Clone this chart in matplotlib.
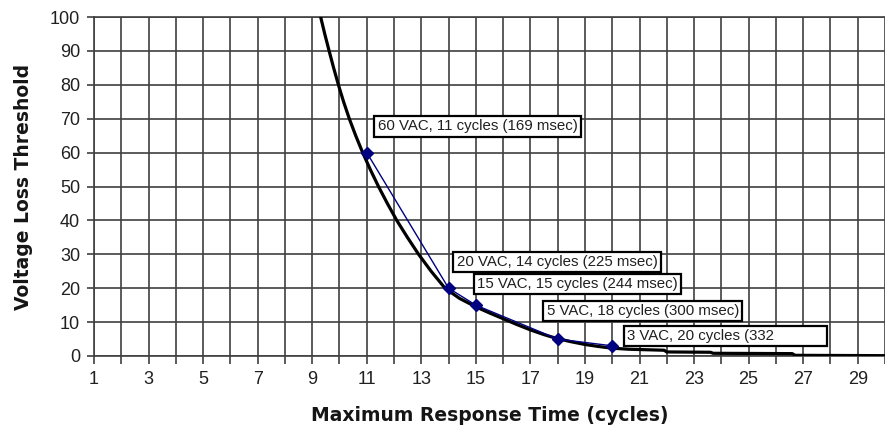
import matplotlib
matplotlib.use("Agg")
import matplotlib.pyplot as plt

# threshold curve (black)
curve_x = [9.31, 9.46, 9.62, 9.785, 9.96, 10.15, 10.36, 10.595, 10.85, 11.13,
           11.43, 11.755, 12.1, 12.49, 12.9, 13.36, 13.87, 14.4, 15.0, 15.5,
           16.0, 16.5, 17.0, 17.5, 18.0, 18.5, 19.0, 19.5, 20.0, 20.6,
           21.9, 22.0, 23.6, 23.7, 26.6, 26.7, 30.0]
curve_y = [100, 95, 90, 85, 80, 75, 70, 65, 60, 55,
           50, 45, 40, 35, 30, 25, 20, 17, 14.5, 12.7,
           11.0, 9.3, 7.7, 6.3, 5.1, 4.2, 3.4, 2.8, 2.3, 2.0,
           1.7, 1.2, 1.1, 0.8, 0.7, 0.2, 0.1]

# measured points (blue diamonds)
pts_cycles = [11, 14, 15, 18, 20]
pts_vac = [60, 20, 15, 5, 3]
pts_labels = [
    "60 VAC, 11 cycles (169 msec)",
    "20 VAC, 14 cycles (225 msec)",
    "15 VAC, 15 cycles (244 msec)",
    "5 VAC, 18 cycles (300 msec)",
    "3 VAC, 20 cycles (332            ",
]
label_pos = [(11.4, 67.7), (14.3, 27.7), (15.05, 21.2), (17.6, 13.3), (20.55, 5.9)]

x_ticks = list(range(1, 30, 2))
x_minor = list(range(1, 31))
y_ticks = list(range(0, 101, 10))

plt.rcParams['font.family'] = ['Liberation Sans', 'DejaVu Sans']

fig = plt.figure(figsize=(8.85, 4.38), dpi=100)
ax = fig.add_axes([94 / 885, 82 / 438, 791 / 885, 339 / 438])

ax.plot(curve_x, curve_y, color="black", lw=2.3, zorder=3)
ax.plot(pts_cycles, pts_vac, color="#000080", lw=1.0, marker="D",
        markersize=6, zorder=4)

for txt, (lx, ly) in zip(pts_labels, label_pos):
    ax.text(lx, ly, txt, fontsize=10.8, ha="left", va="center", zorder=5,
            color="#202020",
            bbox=dict(boxstyle="square,pad=0.22", fc="white", ec="black", lw=1.6))

ax.set_xlim(1, 29.84)
ax.set_ylim(0, 100)
ax.set_xticks(x_ticks)
ax.set_xticks(x_minor, minor=True)
ax.set_yticks(y_ticks)
ax.grid(which="both", axis="x", color="#404040", lw=1.2)
ax.grid(which="major", axis="y", color="#404040", lw=1.2)
ax.set_axisbelow(True)
ax.tick_params(axis="x", which="both", length=6, width=1.2, color="#404040",
               labelsize=13, pad=5, labelcolor="#202020")
ax.tick_params(axis="y", length=5, width=1.2, color="#404040", labelsize=13,
               pad=5, labelcolor="#202020")
for side in ["left", "bottom", "top"]:
    ax.spines[side].set_color("#404040")
    ax.spines[side].set_linewidth(1.2)
ax.spines["right"].set_visible(False)

ax.set_xlabel("Maximum Response Time (cycles)", fontsize=13.5, fontweight="bold",
              family="DejaVu Sans", labelpad=13, color="#151515")
ax.set_ylabel("Voltage Loss Threshold", fontsize=13.5, fontweight="bold",
              family="DejaVu Sans", labelpad=12, color="#151515")

fig.savefig("out.png", dpi=100)
